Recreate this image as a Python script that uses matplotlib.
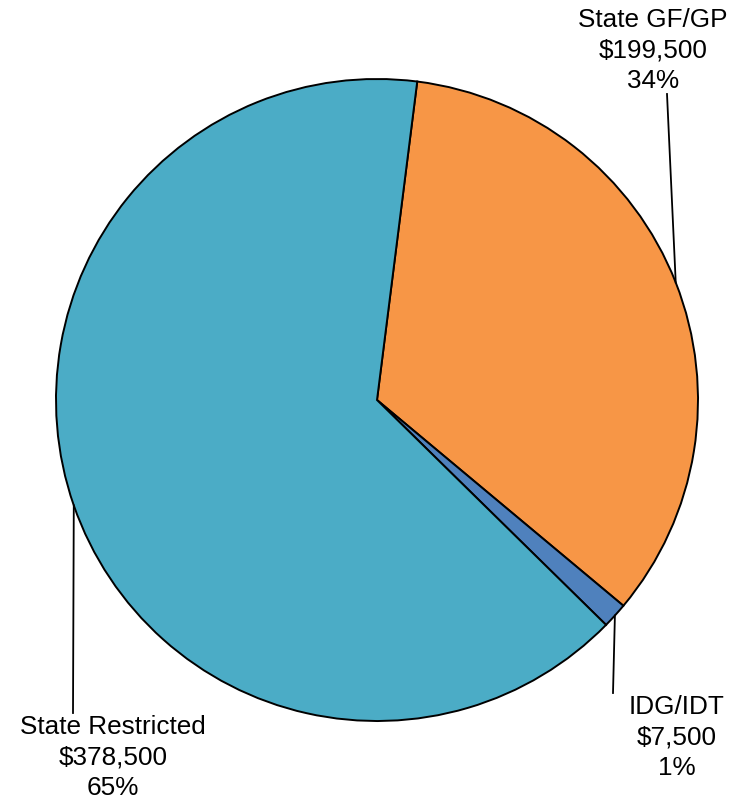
import matplotlib.pyplot as plt
import numpy as np

plt.rcParams['font.family'] = ['Liberation Sans', 'DejaVu Sans']

categories = ['State GF/GP', 'IDG/IDT', 'State Restricted']
amounts = [199500, 7500, 378500]
pct_labels = ['34%', '1%', '65%']
colors = ['#F79646', '#4F81BD', '#4BACC6']

# label anchor (centre of first text line) and leader end, in pixel coords
label_pos = [(653, 20), (677, 707), (113, 727)]
leader_end = [(667, 94), (613, 693), (73, 713)]

W, H = 741, 800
fig = plt.figure(figsize=(W / 100, H / 100), dpi=100)
ax = fig.add_axes([0, 0, 1, 1])

cx, cy, r = 377, H - 400, 321
wedges, _ = ax.pie(amounts, colors=colors, startangle=82.8, counterclock=False,
                   center=(cx, cy), radius=r, frame=True,
                   wedgeprops=dict(edgecolor='black', linewidth=1.4))
ax.set_xlim(0, W)
ax.set_ylim(0, H)
ax.set_aspect('equal')
ax.axis('off')

for i, w in enumerate(wedges):
    # leader starts at the wedge's mid angle on the rim
    mid = np.deg2rad((w.theta1 + w.theta2) / 2)
    x0, y0 = cx + r * np.cos(mid), cy + r * np.sin(mid)
    ex, ey = leader_end[i]
    ax.plot([x0, ex], [y0, H - ey], color='black', linewidth=1.3)
    lx, ly = label_pos[i]
    lines = [categories[i], f"${amounts[i]:,}", pct_labels[i]]
    for j, line in enumerate(lines):
        ax.text(lx, H - (ly + j * 30.5), line, ha='center', va='center', fontsize=18.8)

fig.savefig('out.png', dpi=100)
